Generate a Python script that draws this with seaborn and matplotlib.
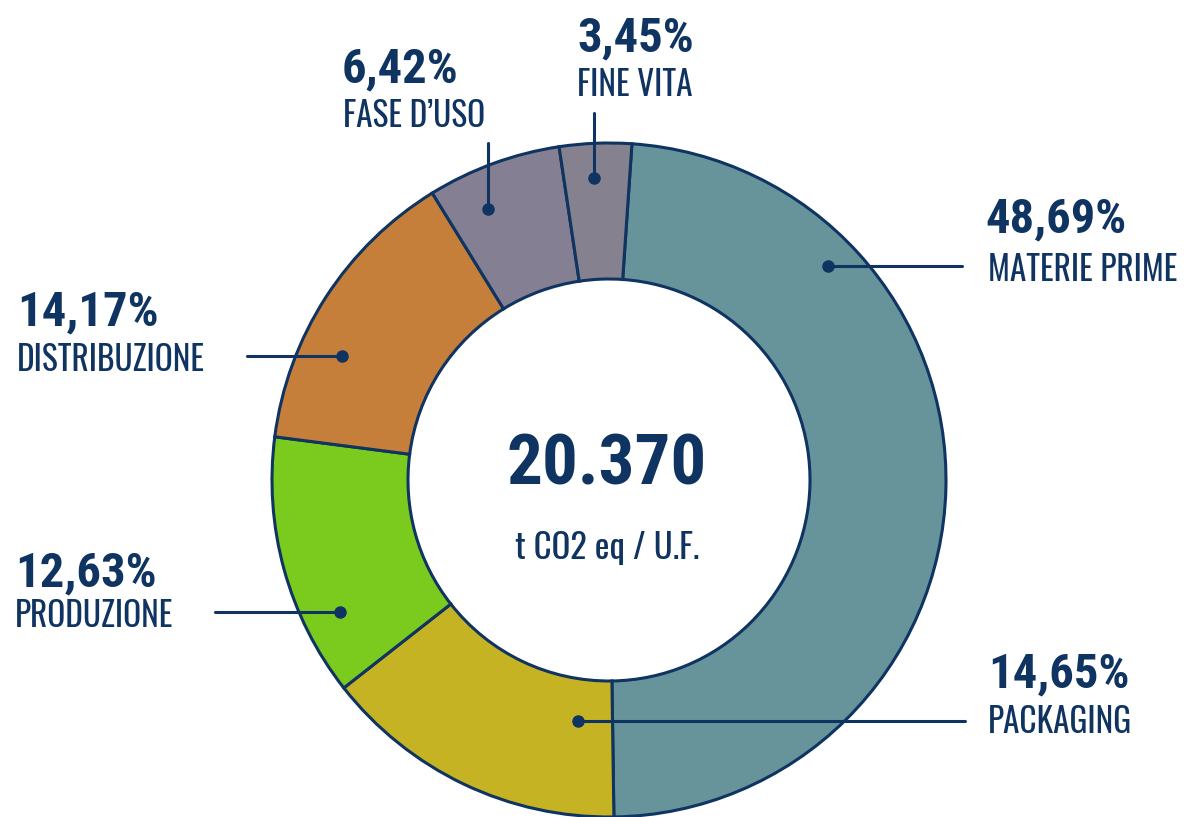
import matplotlib
matplotlib.use("Agg")
import matplotlib.pyplot as plt
import seaborn as sns
from matplotlib import font_manager

# ---- data ----
categories = ["MATERIE PRIME", "PACKAGING", "PRODUZIONE", "DISTRIBUZIONE", "FASE D\u2019USO", "FINE VITA"]
values = [48.69, 14.65, 12.63, 14.17, 6.42, 3.45]
pct_labels = ["48,69%", "14,65%", "12,63%", "14,17%", "6,42%", "3,45%"]
total_label = "20.370"
unit_label = "t CO2 eq / U.F."

colors = ["#67939a", "#c5b323", "#7acb1e", "#c67f3a", "#847f92", "#86818f"]
navy = "#0f3461"

sns.set_theme(style="white")
fl = font_manager.fontManager.ttflist
names = {f.name for f in fl}
candidates = ["Oswald", "Roboto Condensed", "Barlow Condensed", "Antonio",
              "IBM Plex Sans Condensed", "Fjalla One"]
fam = next((c for c in candidates if c in names), "DejaVu Sans")
bold_fam = next((c for c in candidates
                 if any(f.name == c and f.weight in (700, "bold") and "[" not in f.fname for f in fl)),
                fam)
plt.rcParams["font.family"] = [fam, "DejaVu Sans"]

W, H = 1184, 817
fig = plt.figure(figsize=(W / 100, H / 100), dpi=100)
ax = fig.add_axes([0, 0, 1, 1])

def px(x, y):
    return (x, H - y)

cx, cy = px(609, 480)
R = 337
ax.pie(values, colors=colors, startangle=86.1, counterclock=False,
       center=(cx, cy), radius=R,
       wedgeprops=dict(width=136, edgecolor=navy, linewidth=2.2))

ax.set_xlim(0, W)
ax.set_ylim(0, H)
ax.set_aspect("equal")
ax.axis("off")

# leader lines: (line start, dot)
leaders = {
    "MATERIE PRIME": ((962, 266), (828, 266)),
    "PACKAGING": ((965, 721), (578, 721)),
    "PRODUZIONE": ((215, 612), (340, 612)),
    "DISTRIBUZIONE": ((247, 356), (342, 356)),
    "FASE D\u2019USO": ((488, 143), (488, 209)),
    "FINE VITA": ((594, 113), (594, 178)),
}
text_pos = {
    "MATERIE PRIME": ((985, 214), (988, 267)),
    "PACKAGING": ((988, 669), (988, 719)),
    "PRODUZIONE": ((15, 568), (15, 613)),
    "DISTRIBUZIONE": ((17, 307), (17, 357)),
    "FASE D\u2019USO": ((342, 64), (343, 113)),
    "FINE VITA": ((577, 33), (577, 82)),
}

for cat, pct in zip(categories, pct_labels):
    (x0, y0), (x1, y1) = leaders[cat]
    p0, p1 = px(x0, y0), px(x1, y1)
    ax.plot([p0[0], p1[0]], [p0[1], p1[1]], color=navy, lw=2.2, zorder=5)
    ax.plot([p1[0]], [p1[1]], "o", color=navy, ms=8, zorder=6)
    (tx0, ty0), (tx1, ty1) = text_pos[cat]
    ax.text(*px(tx0, ty0), pct, ha="left", va="center_baseline", fontsize=35,
            fontweight="bold", family=[bold_fam, "DejaVu Sans"], color=navy)
    ax.text(*px(tx1, ty1), cat, ha="left", va="center_baseline", fontsize=24,
            color=navy)

ax.text(*px(607, 458), total_label, ha="center", va="center_baseline", fontsize=51,
        fontweight="bold", family=[bold_fam, "DejaVu Sans"], color=navy)
ax.text(*px(607, 545), unit_label, ha="center", va="center_baseline", fontsize=25,
        color=navy)

fig.savefig("out.png", dpi=100, facecolor="white")
